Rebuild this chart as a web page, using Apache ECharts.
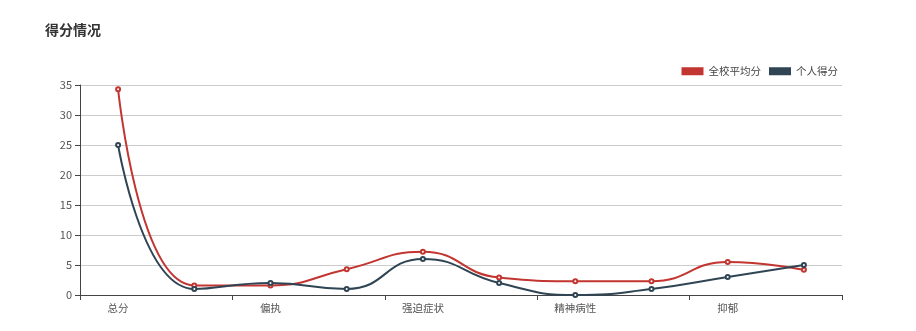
<!DOCTYPE html>
<html>
<head>
<meta charset="utf-8">
<script src="https://cdn.jsdelivr.net/npm/echarts@6/dist/echarts.min.js"></script>
<style>
html,body{margin:0;padding:0;background:#fff;}
#main{width:916px;height:331px;}
</style>
</head>
<body>
<div id="main"></div>
<script>
var categories = ['总分','躯体化','偏执','敌对','强迫症状','人际关系敏感','精神病性','焦虑','抑郁','恐怖'];
var schoolAvg = [34.3, 1.6, 1.6, 4.3, 7.2, 2.9, 2.3, 2.3, 5.5, 4.2];
var personal = [25, 1, 2, 1, 6, 2, 0, 1, 3, 5];
var yTicks = [0, 5, 10, 15, 20, 25, 30, 35];

var font = '"Microsoft YaHei","Noto Sans CJK SC",sans-serif';
var chart = echarts.init(document.getElementById('main'), null, {renderer: 'canvas'});
chart.setOption({
  animation: false,
  color: ['#c23531', '#2f4554'],
  textStyle: {fontFamily: font},
  title: {
    text: '得分情况',
    left: 40,
    top: 18,
    textStyle: {fontSize: 14, fontWeight: 'bold', color: '#333', fontFamily: font}
  },
  legend: {
    data: ['全校平均分', '个人得分'],
    right: 73,
    top: 61,
    icon: 'rect',
    itemWidth: 22,
    itemHeight: 8,
    itemGap: 8,
    textStyle: {fontSize: 10.5, color: '#444', fontFamily: font}
  },
  grid: {left: 80, right: 74, top: 85, bottom: 36, containLabel: false},
  xAxis: {
    type: 'category',
    data: categories,
    boundaryGap: true,
    axisLine: {lineStyle: {color: '#444'}},
    axisTick: {show: true, interval: function (i) { return i % 2 === 0 && i < categories.length; }, lineStyle: {color: '#444'}},
    axisLabel: {interval: 1, fontSize: 10.5, color: '#555', margin: 8, fontFamily: font}
  },
  yAxis: {
    type: 'value',
    min: yTicks[0],
    max: yTicks[yTicks.length - 1],
    interval: 5,
    axisLine: {show: true, lineStyle: {color: '#444'}},
    axisTick: {show: true, lineStyle: {color: '#444'}},
    axisLabel: {fontSize: 11, color: '#555', margin: 8, fontFamily: font},
    splitLine: {show: true, lineStyle: {color: '#ccc'}}
  },
  series: [
    {
      name: '全校平均分',
      type: 'line',
      smooth: true,
      data: schoolAvg,
      symbol: 'emptyCircle',
      symbolSize: 4,
      lineStyle: {width: 2}
    },
    {
      name: '个人得分',
      type: 'line',
      smooth: true,
      data: personal,
      symbol: 'emptyCircle',
      symbolSize: 4,
      lineStyle: {width: 2}
    }
  ]
});
</script>
</body>
</html>
